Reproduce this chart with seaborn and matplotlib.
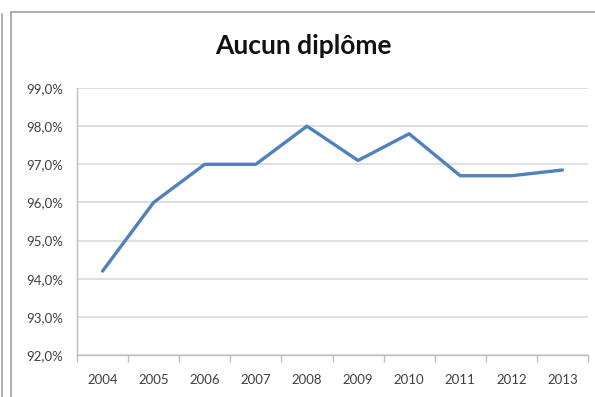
import matplotlib
matplotlib.use("Agg")
import matplotlib.pyplot as plt
import matplotlib.ticker as mticker
from matplotlib.lines import Line2D
import seaborn as sns
import pandas as pd

years = ["2004", "2005", "2006", "2007", "2008", "2009", "2010", "2011", "2012", "2013"]
values = [94.2, 96.0, 97.0, 97.0, 98.0, 97.1, 97.8, 96.7, 96.7, 96.85]
title = "Aucun diplôme"

sns.set_theme(style="white")
plt.rcParams["font.family"] = ["Lato", "DejaVu Sans"]

df = pd.DataFrame({"year": years, "value": values})

fig = plt.figure(figsize=(5.95, 3.97), dpi=100)
ax = fig.add_axes([77 / 595, 42 / 397, 511 / 595, 267 / 397])

sns.lineplot(data=df, x="year", y="value", ax=ax, color="#4F81BD", linewidth=2.4)

ax.set_xlim(-0.5, len(years) - 0.5)
ax.set_ylim(92, 99)
ax.yaxis.set_major_locator(mticker.MultipleLocator(1))
ax.yaxis.set_major_formatter(mticker.FuncFormatter(lambda v, p: f"{v:.1f}%".replace(".", ",")))
ax.grid(axis="y", color="#d9d9d9", linewidth=1.2)
ax.set_axisbelow(True)
ax.set_xlabel("")
ax.set_ylabel("")

for s in ["top", "right"]:
    ax.spines[s].set_visible(False)
for s in ["left", "bottom"]:
    ax.spines[s].set_color("#bfbfbf")
    ax.spines[s].set_linewidth(1.0)

ax.xaxis.set_minor_locator(mticker.FixedLocator([i - 0.5 for i in range(len(years) + 1)]))
ax.tick_params(axis="x", which="major", length=0, pad=14, labelsize=9.5, labelcolor="#404040")
ax.tick_params(axis="x", which="minor", length=5, width=1, color="#bfbfbf", direction="out", bottom=True)
ax.tick_params(axis="y", which="major", length=0, pad=10, labelsize=9.5, labelcolor="#404040")

fig.text(303 / 595, 1 - 46 / 397, title, ha="center", va="center", fontsize=19, fontweight="bold", color="#111111")

# frame decorations
fig.add_artist(Line2D([11 / 595, 1.0], [1 - 12 / 397, 1 - 12 / 397], transform=fig.transFigure, color="#a0a0a0", linewidth=1.2))
fig.add_artist(Line2D([11 / 595, 11 / 595], [0, 1 - 12 / 397], transform=fig.transFigure, color="#a0a0a0", linewidth=1.2))
fig.add_artist(Line2D([2 / 595, 2 / 595], [0, 1 - 14 / 397], transform=fig.transFigure, color="#a0a0a0", linewidth=1.2))

fig.savefig("out.png", dpi=100)
